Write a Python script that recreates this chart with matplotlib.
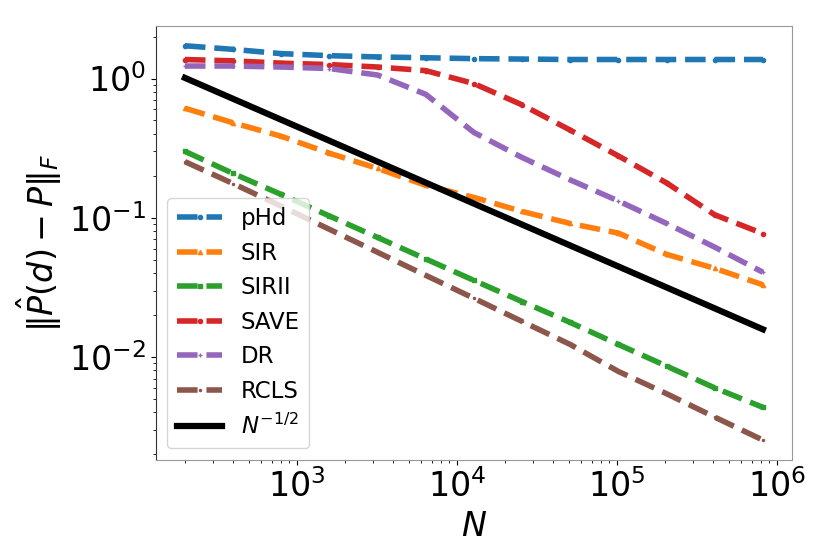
import numpy as np
import matplotlib
matplotlib.use("Agg")
import matplotlib.pyplot as plt

# sample sizes N = 200 * 2^k
N = [200, 400, 800, 1600, 3200, 6400, 12800, 25600, 51200, 102400, 204800, 409600, 819200]

# Frobenius error of each estimator
phd = [1.72, 1.62, 1.51, 1.46, 1.43, 1.41, 1.39, 1.38, 1.37, 1.37, 1.37, 1.37, 1.37]
sir = [0.612, 0.481, 0.385, 0.291, 0.226, 0.171, 0.140, 0.111, 0.091, 0.0776, 0.0546, 0.0433, 0.033]
sirii = [0.300, 0.208, 0.147, 0.103, 0.0722, 0.0506, 0.0355, 0.0250, 0.0177, 0.0123, 0.0086, 0.0060, 0.00435]
save = [1.37, 1.34, 1.29, 1.26, 1.21, 1.14, 0.92, 0.647, 0.426, 0.278, 0.178, 0.105, 0.077]
dr = [1.23, 1.23, 1.21, 1.18, 1.06, 0.77, 0.41, 0.271, 0.187, 0.132, 0.091, 0.0615, 0.0406]
rcls = [0.253, 0.176, 0.121, 0.0826, 0.0565, 0.0386, 0.0264, 0.0180, 0.0123, 0.00787, 0.00545, 0.00370, 0.00253]

methods = ["pHd", "SIR", "SIRII", "SAVE", "DR", "RCLS"]
errors = [phd, sir, sirii, save, dr, rcls]
markers = ["o", "^", "s", "o", "+", "."]

ref_const = 14.3  # scale of the N^{-1/2} reference line

fig, ax = plt.subplots(figsize=(8.3, 5.54), dpi=100)
plt.subplots_adjust(left=0.188, right=0.954, top=0.953, bottom=0.170)

for name, err, m in zip(methods, errors, markers):
    ax.plot(N, err, linestyle="--", marker=m, markersize=3, linewidth=4, label=name)

Narr = np.array(N, dtype=float)
ax.plot(Narr, ref_const / np.sqrt(Narr), color="black", linewidth=4.5, label=r"$N^{-1/2}$")

ax.set_xscale("log")
ax.set_yscale("log")
ax.set_xlabel(r"$N$", fontsize=24)
ax.set_ylabel(r"$\|\hat{P}(d) - P\|_F$", fontsize=24)
ax.tick_params(axis="both", which="major", labelsize=24)

ax.spines["left"].set_color("0.2")
for s in ["top", "right", "bottom"]:
    ax.spines[s].set_color("0.6")

ax.legend(loc="lower left", fontsize=16.5)

plt.savefig("out.png", dpi=100)
